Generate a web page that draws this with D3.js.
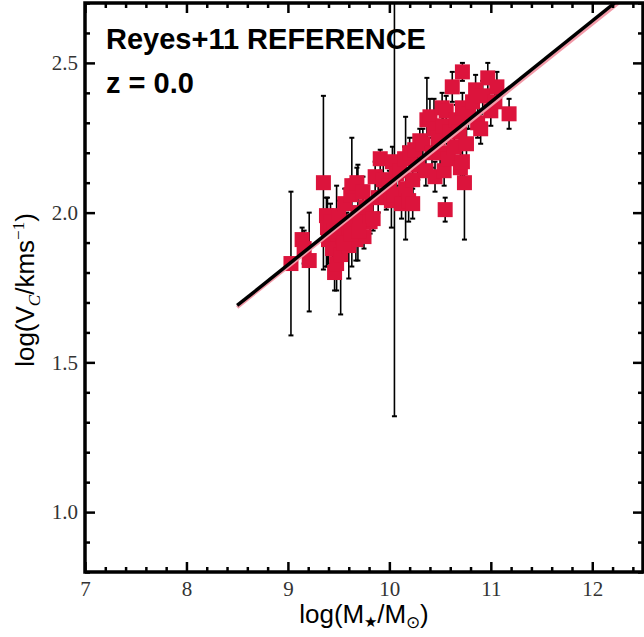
<!DOCTYPE html>
<html>
<head>
<meta charset="utf-8">
<script src="https://cdn.jsdelivr.net/npm/d3@7"></script>
<style>
  html, body { margin: 0; padding: 0; background: #fff; }
  svg { display: block; }
</style>
</head>
<body>
<div id="chart"></div>
<script>
// log stellar mass of each galaxy
const logMass = [
  9.03, 9.14, 9.16, 9.21, 9.35, 9.38, 9.39, 9.40, 9.42, 9.44,
  9.46, 9.48, 9.49, 9.50, 9.52, 9.54, 9.56, 9.58, 9.60, 9.62,
  9.63, 9.65, 9.67, 9.68, 9.69, 9.71, 9.74, 9.75, 9.77, 9.81,
  9.84, 9.86, 9.89, 9.91, 9.94, 9.97, 10.00, 10.02, 10.05, 10.03,
  10.07, 10.10, 10.12, 10.15, 10.16, 10.19, 10.20, 10.23, 10.23, 10.25,
  10.28, 10.30, 10.33, 10.36, 10.37, 10.40, 10.42, 10.44, 10.45, 10.48,
  10.50, 10.52, 10.53, 10.54, 10.55, 10.56, 10.58, 10.60, 10.62, 10.64,
  10.66, 10.69, 10.70, 10.72, 10.72, 10.72, 10.74, 10.76, 10.78, 10.82,
  10.85, 10.87, 10.90, 10.92, 10.97, 11.00, 11.04, 11.06, 11.18,
  9.45, 9.55, 9.62, 9.70
];
// log circular velocity
const logVc = [
  1.83, 1.91, 1.88, 1.84, 2.10, 1.99, 1.95, 1.91, 1.97, 1.88,
  1.80, 1.83, 1.93, 1.99, 1.86, 1.92, 2.03, 1.95, 1.89, 2.06,
  2.09, 1.97, 1.91, 2.10, 2.00, 1.97, 2.07, 1.92, 2.02, 1.97,
  1.98, 2.12, 2.05, 2.18, 2.11, 2.06, 2.09, 2.04, 2.06, 2.17,
  2.13, 2.14, 2.03, 2.18, 2.08, 2.04, 2.20, 2.11, 2.03, 2.21,
  2.16, 2.24, 2.23, 2.14, 2.31, 2.32, 2.20, 2.28, 2.12, 2.25,
  2.20, 2.35, 2.29, 2.14, 2.01, 2.34, 2.18, 2.27, 2.42, 2.22,
  2.31, 2.27, 2.15, 2.47, 2.35, 2.17, 2.10, 2.23, 2.33, 2.37,
  2.41, 2.30, 2.28, 2.39, 2.45, 2.34, 2.37, 2.42, 2.33,
  1.94, 1.90, 1.93, 1.94
];
// lower / upper error in dex
const errLo = [
  0.24, 0.05, 0.05, 0.17, 0.29, 0.17, 0.13, 0.08, 0.10, 0.06,
  0.06, 0.09, 0.05, 0.06, 0.20, 0.05, 0.05, 0.05, 0.11, 0.05,
  0.27, 0.05, 0.07, 0.05, 0.16, 0.05, 0.05, 0.04, 0.05, 0.04,
  0.04, 0.05, 0.05, 0.04, 0.05, 0.05, 0.04, 0.09, 0.74, 0.05,
  0.05, 0.05, 0.05, 0.05, 0.17, 0.07, 0.04, 0.05, 0.05, 0.04,
  0.05, 0.05, 0.05, 0.05, 0.06, 0.05, 0.05, 0.05, 0.05, 0.05,
  0.05, 0.05, 0.05, 0.05, 0.04, 0.05, 0.05, 0.05, 0.05, 0.05,
  0.05, 0.05, 0.05, 0.03, 0.05, 0.05, 0.19, 0.05, 0.05, 0.05,
  0.05, 0.05, 0.05, 0.05, 0.05, 0.05, 0.05, 0.05, 0.05,
  0.05, 0.05, 0.05, 0.05
];
const errHi = [
  0.24, 0.04, 0.06, 0.16, 0.29, 0.06, 0.10, 0.09, 0.06, 0.05,
  0.05, 0.26, 0.05, 0.05, 0.06, 0.04, 0.05, 0.05, 0.05, 0.05,
  0.16, 0.05, 0.06, 0.05, 0.16, 0.05, 0.05, 0.04, 0.05, 0.05,
  0.05, 0.05, 0.05, 0.03, 0.05, 0.05, 0.05, 0.06, 0.70, 0.05,
  0.05, 0.04, 0.05, 0.04, 0.24, 0.05, 0.05, 0.05, 0.05, 0.04,
  0.05, 0.04, 0.05, 0.05, 0.14, 0.06, 0.05, 0.10, 0.05, 0.05,
  0.05, 0.05, 0.05, 0.05, 0.04, 0.05, 0.05, 0.05, 0.05, 0.05,
  0.05, 0.05, 0.05, 0.03, 0.05, 0.05, 0.05, 0.05, 0.05, 0.05,
  0.05, 0.05, 0.05, 0.05, 0.05, 0.05, 0.05, 0.05, 0.05,
  0.05, 0.05, 0.05, 0.05
];
// Reyes+11 relation (black) and the model line under it (pink)
const fitMass = [8.5, 12.22];
const fitVc = [1.69, 2.70];
const modelMass = [8.5, 12.26];
const modelVc = [1.684, 2.70];

const xMajor = [7, 8, 9, 10, 11, 12];
const yMajor = [1.0, 1.5, 2.0, 2.5];

const W = 644, H = 637;
const plotLeft = 85, plotRight = 643, plotTop = 3, plotBottom = 572;

let svg = d3.select('#chart').append('svg')
  .attr('width', W)
  .attr('height', H);

let x = d3.scaleLinear().domain([7, 12.5]).range([plotLeft, plotRight]);
let y = d3.scaleLinear().domain([0.8, 2.7]).range([plotBottom, plotTop]);

svg.append('clipPath')
  .attr('id', 'plot-clip')
  .append('rect')
  .attr('x', plotLeft).attr('y', plotTop)
  .attr('width', plotRight - plotLeft).attr('height', plotBottom - plotTop);

let plot = svg.append('g').attr('clip-path', 'url(#plot-clip)');

let points = logMass.map((m, i) => ({ m: m, v: logVc[i], lo: errLo[i], hi: errHi[i] }));

// error bars first, squares on top of them
let bars = plot.append('g');
bars.selectAll('line.bar')
  .data(points)
  .enter()
  .append('line')
  .attr('x1', d => x(d.m)).attr('x2', d => x(d.m))
  .attr('y1', d => y(d.v - d.lo)).attr('y2', d => y(d.v + d.hi))
  .attr('stroke', '#000')
  .attr('stroke-width', 1.6);

let caps = points.flatMap(d => [{ m: d.m, v: d.v - d.lo }, { m: d.m, v: d.v + d.hi }]);
bars.selectAll('line.cap')
  .data(caps)
  .enter()
  .append('line')
  .attr('x1', d => x(d.m) - 2.5).attr('x2', d => x(d.m) + 2.5)
  .attr('y1', d => y(d.v)).attr('y2', d => y(d.v))
  .attr('stroke', '#000')
  .attr('stroke-width', 2);

const S = 15;
plot.append('g')
  .selectAll('rect')
  .data(points)
  .enter()
  .append('rect')
  .attr('x', d => x(d.m) - S / 2)
  .attr('y', d => y(d.v) - S / 2)
  .attr('width', S)
  .attr('height', S)
  .attr('fill', '#dc143c');

let line = d3.line().x(d => x(d[0])).y(d => y(d[1]));

plot.append('path')
  .datum(modelMass.map((m, i) => [m, modelVc[i]]))
  .attr('d', line)
  .attr('fill', 'none')
  .attr('stroke', '#f29aa8')
  .attr('stroke-width', 3.5);

plot.append('path')
  .datum(fitMass.map((m, i) => [m, fitVc[i]]))
  .attr('d', line)
  .attr('fill', 'none')
  .attr('stroke', '#000')
  .attr('stroke-width', 3.5);

// axes: inward ticks on all four sides
const xMinor = d3.range(7, 12.51, 0.2).filter(v => Math.abs(v - Math.round(v)) > 1e-6);
const yMinor = d3.range(0.8, 2.71, 0.1).filter(v => Math.abs(v * 2 - Math.round(v * 2)) > 1e-6);

function styleAxis(g) {
  g.select('.domain').remove();
  g.selectAll('.tick line').attr('stroke', '#000').attr('stroke-width', 2.5);
}

svg.append('g')
  .attr('transform', `translate(0,${plotBottom})`)
  .call(d3.axisBottom(x).tickValues(xMajor).tickSize(-10).tickPadding(9).tickFormat(d3.format('d')))
  .call(styleAxis)
  .call(g => g.selectAll('text')
    .attr('font-family', 'Liberation Serif, serif')
    .attr('font-size', 21)
    .attr('fill', '#333'));
svg.append('g')
  .attr('transform', `translate(0,${plotBottom})`)
  .call(d3.axisBottom(x).tickValues(xMinor).tickSize(-5).tickFormat(''))
  .call(styleAxis);
svg.append('g')
  .attr('transform', `translate(0,${plotTop})`)
  .call(d3.axisTop(x).tickValues(xMajor).tickSize(-10).tickFormat(''))
  .call(styleAxis);
svg.append('g')
  .attr('transform', `translate(0,${plotTop})`)
  .call(d3.axisTop(x).tickValues(xMinor).tickSize(-5).tickFormat(''))
  .call(styleAxis);

svg.append('g')
  .attr('transform', `translate(${plotLeft},0)`)
  .call(d3.axisLeft(y).tickValues(yMajor).tickSize(-10).tickPadding(7).tickFormat(d3.format('.1f')))
  .call(styleAxis)
  .call(g => g.selectAll('text')
    .attr('font-family', 'Liberation Serif, serif')
    .attr('font-size', 21)
    .attr('fill', '#333'));
svg.append('g')
  .attr('transform', `translate(${plotLeft},0)`)
  .call(d3.axisLeft(y).tickValues(yMinor).tickSize(-5).tickFormat(''))
  .call(styleAxis);
svg.append('g')
  .attr('transform', `translate(${plotRight},0)`)
  .call(d3.axisRight(y).tickValues(yMajor).tickSize(-10).tickFormat(''))
  .call(styleAxis);
svg.append('g')
  .attr('transform', `translate(${plotRight},0)`)
  .call(d3.axisRight(y).tickValues(yMinor).tickSize(-5).tickFormat(''))
  .call(styleAxis);

svg.append('rect')
  .attr('x', plotLeft).attr('y', plotTop)
  .attr('width', plotRight - plotLeft).attr('height', plotBottom - plotTop)
  .attr('fill', 'none')
  .attr('stroke', '#000')
  .attr('stroke-width', 3.5);

// axis titles
let xt = svg.append('text')
  .attr('x', 364).attr('y', 623)
  .attr('text-anchor', 'middle')
  .attr('font-family', 'Liberation Sans, Arial, sans-serif')
  .attr('font-size', 26)
  .attr('fill', '#000');
xt.append('tspan').text('log(M');
xt.append('tspan').attr('font-size', 15).attr('dy', 4).text('★');
xt.append('tspan').attr('dy', -4).text('/M');
xt.append('tspan').attr('font-size', 17).attr('dy', 5).text('⊙');
xt.append('tspan').attr('dy', -5).text(')');

let yt = svg.append('text')
  .attr('transform', 'translate(34,290) rotate(-90)')
  .attr('text-anchor', 'middle')
  .attr('font-family', 'Liberation Sans, Arial, sans-serif')
  .attr('font-size', 26)
  .attr('fill', '#000');
yt.append('tspan').text('log(V');
yt.append('tspan').attr('font-size', 17).attr('font-style', 'italic')
  .attr('font-family', 'Liberation Serif, serif').attr('dy', 6).text('C');
yt.append('tspan').attr('dy', -6).text('/kms');
yt.append('tspan').attr('font-size', 17).attr('font-family', 'Liberation Serif, serif')
  .attr('dy', -10).text('−1');
yt.append('tspan').attr('dy', 10).text(')');

// in-plot labels
svg.append('text')
  .attr('x', 106).attr('y', 49)
  .attr('font-family', 'Liberation Sans, Arial, sans-serif')
  .attr('font-weight', 'bold')
  .attr('font-size', 29)
  .text('Reyes+11 REFERENCE');
svg.append('text')
  .attr('x', 106).attr('y', 93)
  .attr('font-family', 'Liberation Sans, Arial, sans-serif')
  .attr('font-weight', 'bold')
  .attr('font-size', 29)
  .text('z = 0.0');
</script>
</body>
</html>
